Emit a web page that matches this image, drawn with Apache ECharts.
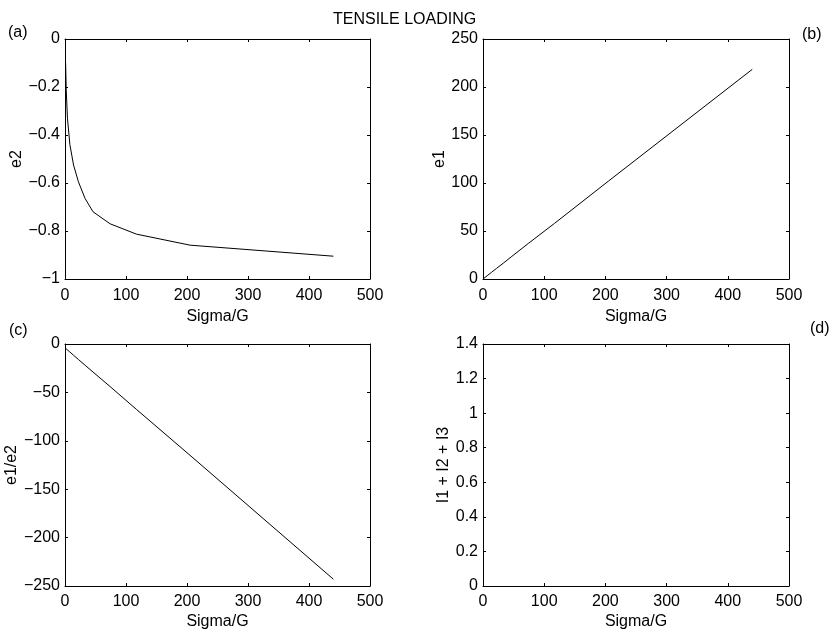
<!DOCTYPE html>
<html>
<head>
<meta charset="utf-8">
<script src="https://cdn.jsdelivr.net/npm/echarts@6/dist/echarts.min.js"></script>
<style>
html,body{margin:0;padding:0;background:#fff;}
#chart{width:834px;height:633px;}
</style>
</head>
<body>
<div id="chart"></div>
<script>
// ---- data ----
const sigma    = [1, 2, 4, 8, 14, 22, 33, 46, 74, 117, 205, 440];
const e2       = [-0.10, -0.21, -0.33, -0.44, -0.525, -0.595, -0.665, -0.72, -0.77, -0.813, -0.859, -0.905];
const e1       = [0.5, 1.0, 2.0, 4.0, 7.0, 11.0, 16.4, 23.0, 37.0, 58.0, 102.0, 218.4];
const e1OverE2 = [-4.5, -5.1, -6.2, -8.3, -11.6, -16.0, -22.0, -29.0, -44.0, -67.5, -115.0, -243.0];
const iSum     = []; // nothing visible in panel (d)

const xTicks = {min: 0, max: 500, interval: 100};
const panels = [
  {tag: '(a)', yName: 'e2',           yMin: -1,   yMax: 0,   yInt: 0.2, y: e2,       nameGap: 31},
  {tag: '(b)', yName: 'e1',           yMin: 0,    yMax: 250, yInt: 50,  y: e1,       nameGap: 31},
  {tag: '(c)', yName: 'e1/e2',        yMin: -250, yMax: 0,   yInt: 50,  y: e1OverE2, nameGap: 42},
  {tag: '(d)', yName: 'I1 + I2 + I3', yMin: 0,    yMax: 1.4, yInt: 0.2, y: iSum,     nameGap: 27}
];

const FONT = "'Liberation Sans', Arial, Helvetica, sans-serif";
const FS = 16;
const grids = [
  {left: 65,  top: 39,  width: 305, height: 240},
  {left: 483, top: 39,  width: 306, height: 240},
  {left: 65,  top: 344, width: 305, height: 242},
  {left: 483, top: 344, width: 306, height: 242}
];
const tagPos = [
  {left: 8, top: 25}, {left: 802, top: 27}, {left: 9, top: 323}, {left: 810, top: 321}
];
const xNameGap = [30, 30, 28, 28];
const xLabelMargin = [9, 9, 8, 8];

function fmt(v) {
  let s = String(Math.round(v * 1000) / 1000);
  return s.replace('-', '\u2212');
}
const lineStyle = {color: '#000', width: 1};

const xAxis = [], yAxis = [], series = [];
panels.forEach((p, i) => {
  xAxis.push({
    type: 'value', gridIndex: i, position: 'bottom',
    min: xTicks.min, max: xTicks.max, interval: xTicks.interval,
    name: 'Sigma/G', nameLocation: 'middle', nameGap: xNameGap[i],
    nameTextStyle: {color: '#000', fontSize: FS, fontFamily: FONT},
    axisLine: {show: true, onZero: false, lineStyle: lineStyle},
    axisTick: {show: true, inside: true, length: 3, lineStyle: lineStyle},
    axisLabel: {show: true, color: '#000', fontSize: FS, fontFamily: FONT, margin: xLabelMargin[i], formatter: fmt, showMinLabel: true, showMaxLabel: true},
    splitLine: {show: false}
  });
  xAxis.push({
    type: 'value', gridIndex: i, position: 'top',
    min: xTicks.min, max: xTicks.max, interval: xTicks.interval,
    axisLine: {show: true, onZero: false, lineStyle: lineStyle},
    axisTick: {show: true, inside: true, length: 3, lineStyle: lineStyle},
    axisLabel: {show: false}, splitLine: {show: false}
  });
  yAxis.push({
    type: 'value', gridIndex: i, position: 'left',
    min: p.yMin, max: p.yMax, interval: p.yInt,
    name: p.yName, nameLocation: 'middle', nameGap: p.nameGap, nameRotate: 90,
    nameTextStyle: {color: '#000', fontSize: FS, fontFamily: FONT},
    axisLine: {show: true, onZero: false, lineStyle: lineStyle},
    axisTick: {show: true, inside: true, length: 3, lineStyle: lineStyle},
    axisLabel: {show: true, color: '#000', fontSize: FS, fontFamily: FONT, margin: 5, formatter: fmt, showMinLabel: true, showMaxLabel: true},
    splitLine: {show: false}
  });
  yAxis.push({
    type: 'value', gridIndex: i, position: 'right',
    min: p.yMin, max: p.yMax, interval: p.yInt,
    axisLine: {show: true, onZero: false, lineStyle: lineStyle},
    axisTick: {show: true, inside: true, length: 3, lineStyle: lineStyle},
    axisLabel: {show: false}, splitLine: {show: false}
  });
  series.push({
    type: 'line', xAxisIndex: i * 2, yAxisIndex: i * 2,
    data: p.y.map((v, k) => [sigma[k], v]),
    showSymbol: false, symbol: 'none', smooth: false,
    lineStyle: {color: '#000', width: 1}, silent: true
  });
});

const titles = [{
  text: 'TENSILE LOADING', left: 328, top: 7,
  textStyle: {color: '#000', fontSize: FS, fontWeight: 'normal', fontFamily: FONT}
}];
panels.forEach((p, i) => {
  titles.push({
    text: p.tag, left: tagPos[i].left, top: tagPos[i].top, padding: 0,
    textStyle: {color: '#000', fontSize: FS, fontWeight: 'normal', fontFamily: FONT}
  });
});

const chart = echarts.init(document.getElementById('chart'), null, {renderer: 'canvas'});
chart.setOption({
  animation: false,
  backgroundColor: '#fff',
  title: titles,
  grid: grids.map(g => Object.assign({containLabel: false}, g)),
  xAxis: xAxis,
  yAxis: yAxis,
  series: series
});
</script>
</body>
</html>
